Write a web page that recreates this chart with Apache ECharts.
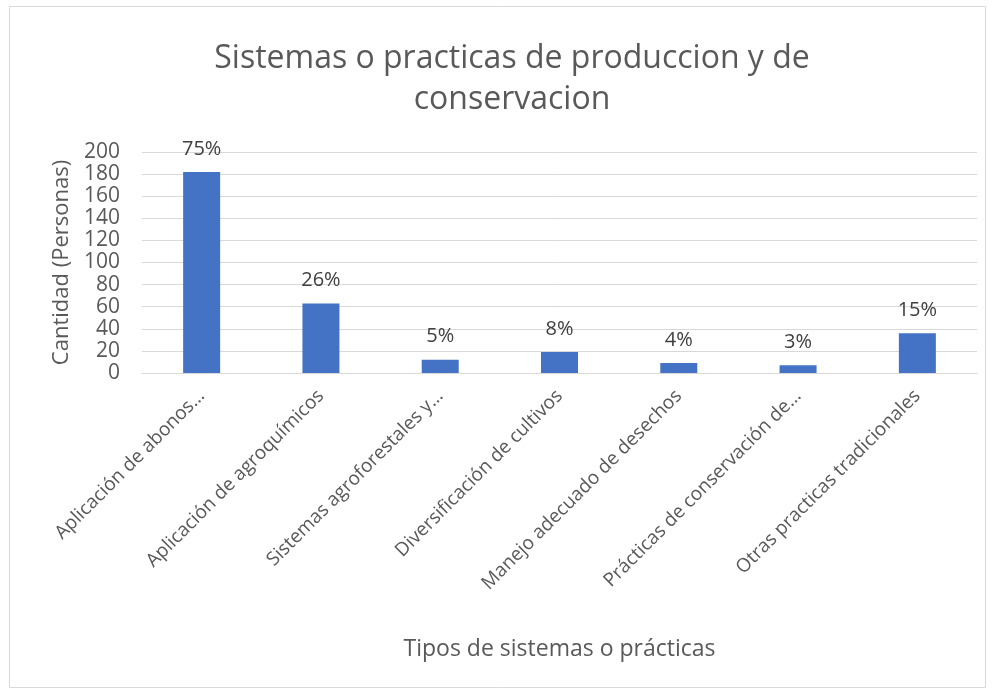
<!DOCTYPE html>
<html>
<head>
<meta charset="utf-8">
<script src="https://cdn.jsdelivr.net/npm/echarts@6/dist/echarts.min.js"></script>
<style>
  html, body { margin: 0; padding: 0; background: #fff; }
  #chart { width: 997px; height: 693px; }
</style>
</head>
<body>
<div id="chart"></div>
<script>
// categorias (como aparecen recortadas en el grafico)
var categories = [
  'Aplicación de abonos…',
  'Aplicación de agroquímicos',
  'Sistemas agroforestales y…',
  'Diversificación de cultivos',
  'Manejo adecuado de desechos',
  'Prácticas de conservación de…',
  'Otras practicas tradicionales'
];
var personas = [182, 63, 12, 19, 9, 7, 36];
var porcentajes = ['75%', '26%', '5%', '8%', '4%', '3%', '15%'];
var yTicks = [0, 200, 20];

var font = '"Open Sans", "Noto Sans", sans-serif';
var myChart = echarts.init(document.getElementById('chart'));

myChart.setOption({
  animation: false,
  backgroundColor: '#fff',
  title: {
    text: 'Sistemas o practicas de produccion y de\nconservacion',
    left: 507,
    textAlign: 'center',
    top: 33,
    textStyle: { fontFamily: font, fontSize: 32, fontWeight: 'normal', color: '#595959', lineHeight: 41 }
  },
  graphic: [{
    type: 'rect',
    shape: { x: 9.5, y: 6.5, width: 976, height: 681 },
    style: { fill: 'none', stroke: '#d9d9d9', lineWidth: 1 },
    silent: true
  }],
  grid: { left: 142, right: 20, top: 152, bottom: 320, containLabel: false },
  xAxis: {
    type: 'category',
    data: categories,
    name: 'Tipos de sistemas o prácticas',
    nameLocation: 'middle',
    nameGap: 265,
    nameTextStyle: { fontFamily: font, fontSize: 23, color: '#595959' },
    axisLine: { lineStyle: { color: '#d9d9d9' } },
    axisTick: { show: false },
    axisLabel: {
      rotate: 45, interval: 0, margin: 20,
      fontFamily: font, fontSize: 19, color: '#595959'
    }
  },
  yAxis: {
    type: 'value',
    min: yTicks[0], max: yTicks[1], interval: yTicks[2],
    name: 'Cantidad (Personas)',
    nameLocation: 'middle',
    nameGap: 68,
    nameTextStyle: { fontFamily: font, fontSize: 22, color: '#595959' },
    axisLine: { show: false },
    axisTick: { show: false },
    axisLabel: { fontFamily: font, fontSize: 21, color: '#595959', margin: 22 },
    splitLine: { lineStyle: { color: '#d9d9d9', width: 1 } }
  },
  series: [{
    type: 'bar',
    data: personas,
    barWidth: 37,
    itemStyle: { color: '#4472c4' },
    label: {
      show: true,
      position: 'top',
      distance: 13,
      fontFamily: font, fontSize: 20, color: '#404040',
      formatter: function (p) { return porcentajes[p.dataIndex]; }
    }
  }]
});
</script>
</body>
</html>
